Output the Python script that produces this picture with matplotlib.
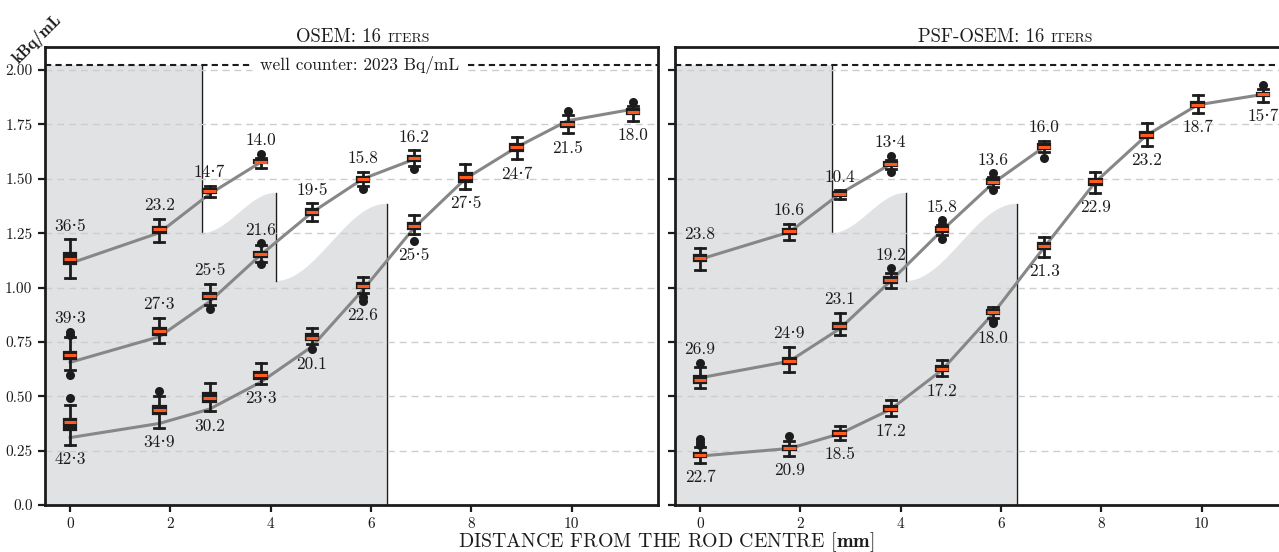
import numpy as np
import matplotlib
matplotlib.use("Agg")
import matplotlib.pyplot as plt

plt.rcParams["font.family"] = ["cmr10", "DejaVu Serif"]
plt.rcParams["mathtext.fontset"] = "cm"
plt.rcParams["axes.unicode_minus"] = False

# distance of each rod from the rod centre [mm]
xpos = [0, 1.78, 2.78, 3.8, 4.82, 5.84, 6.86, 7.88, 8.9, 9.92, 11.22]
yticks = [0.0, 0.25, 0.5, 0.75, 1.0, 1.25, 1.5, 1.75, 2.0]
yticklabels = ["0.0", "0.25", "0.50", "0.75", "1.00", "1.25", "1.50", "1.75", "2.00"]
xticks = [0, 2, 4, 6, 8, 10]
well_counter = 2.023  # kBq/mL

# rod edges: x of each step, value below / above the step
step_x = [2.62, 4.10, 6.31]
step_lo = [1.25, 1.03, 0.0]
step_hi = [2.023, 1.435, 1.385]

# ---- OSEM, three rod groups (top, middle, bottom)
osem_whislo = [[1.045, 1.211, 1.417, 1.548],
               [0.621, 0.746, 0.918, 1.119, 1.306, 1.467, 1.560],
               [0.276, 0.356, 0.431, 0.557, 0.740, 0.976, 1.245, 1.453, 1.589, 1.709, 1.767]]
osem_q1 = [[1.107, 1.252, 1.433, 1.571],
           [0.670, 0.782, 0.946, 1.142, 1.333, 1.487, 1.582],
           [0.344, 0.418, 0.475, 0.580, 0.759, 0.996, 1.269, 1.487, 1.628, 1.738, 1.798]]
osem_med = [[1.132, 1.267, 1.444, 1.578],
            [0.690, 0.800, 0.959, 1.153, 1.347, 1.499, 1.594],
            [0.383, 0.437, 0.491, 0.599, 0.769, 1.008, 1.284, 1.507, 1.645, 1.750, 1.808]]
osem_q3 = [[1.157, 1.280, 1.451, 1.586],
           [0.705, 0.815, 0.973, 1.165, 1.359, 1.509, 1.605],
           [0.395, 0.457, 0.515, 0.611, 0.785, 1.019, 1.298, 1.525, 1.660, 1.760, 1.819]]
osem_whishi = [[1.222, 1.315, 1.467, 1.595],
               [0.774, 0.861, 1.016, 1.195, 1.387, 1.532, 1.632],
               [0.461, 0.503, 0.560, 0.653, 0.815, 1.047, 1.333, 1.568, 1.693, 1.793, 1.834]]
osem_fliers = [[[], [], [], [1.614]],
               [[0.797, 0.782, 0.598], [], [0.900], [1.203, 1.107], [], [1.451], [1.543]],
               [[0.491], [0.526], [], [], [0.716], [0.955, 0.939], [1.214], [], [], [1.811], [1.854]]]
osem_line = [[1.111, 1.252, 1.430, 1.576],
             [0.656, 0.774, 0.935, 1.150, 1.345, 1.500, 1.590],
             [0.310, 0.375, 0.441, 0.565, 0.728, 0.990, 1.275, 1.500, 1.645, 1.767, 1.820]]
osem_labels = [["36·5", "23.2", "14·7", "14.0"],
               ["39·3", "27·3", "25·5", "21.6", "19·5", "15.8", "16.2"],
               ["42·3", "34·9", "30.2", "23·3", "20.1", "22.6", "25·5", "27·5", "24·7", "21.5", "18.0"]]

# ---- PSF-OSEM
psf_whislo = [[1.079, 1.220, 1.407, 1.543],
              [0.538, 0.612, 0.781, 1.000, 1.242, 1.463, 1.623],
              [0.193, 0.227, 0.299, 0.407, 0.592, 0.858, 1.142, 1.434, 1.653, 1.802, 1.853]]
psf_q1 = [[1.124, 1.247, 1.420, 1.560],
          [0.561, 0.650, 0.807, 1.020, 1.255, 1.478, 1.637],
          [0.219, 0.255, 0.319, 0.430, 0.615, 0.876, 1.179, 1.472, 1.687, 1.830, 1.879]]
psf_med = [[1.136, 1.258, 1.429, 1.568],
           [0.576, 0.664, 0.824, 1.034, 1.267, 1.486, 1.647],
           [0.228, 0.264, 0.330, 0.442, 0.625, 0.887, 1.191, 1.488, 1.701, 1.840, 1.888]]
psf_q3 = [[1.148, 1.268, 1.440, 1.576],
          [0.592, 0.678, 0.835, 1.049, 1.278, 1.497, 1.658],
          [0.238, 0.273, 0.342, 0.453, 0.638, 0.896, 1.204, 1.500, 1.715, 1.853, 1.896]]
psf_whishi = [[1.182, 1.293, 1.448, 1.587],
              [0.635, 0.727, 0.884, 1.065, 1.287, 1.506, 1.676],
              [0.265, 0.296, 0.362, 0.481, 0.665, 0.912, 1.234, 1.531, 1.756, 1.883, 1.911]]
psf_fliers = [[[], [], [], [1.606, 1.529]],
              [[0.655], [], [], [1.088], [1.309, 1.294, 1.224], [1.525, 1.448], [1.597]],
              [[0.304, 0.288, 0.278], [0.319], [], [], [], [0.847, 0.835], [], [], [], [], [1.929]]]
psf_line = [[1.130, 1.255, 1.430, 1.568],
            [0.585, 0.661, 0.810, 1.030, 1.262, 1.480, 1.647],
            [0.225, 0.260, 0.327, 0.440, 0.620, 0.880, 1.185, 1.485, 1.700, 1.840, 1.888]]
psf_labels = [["23.8", "16.6", "10.4", "13·4"],
              ["26.9", "24·9", "23.1", "19.2", "15.8", "13.6", "16.0"],
              ["22.7", "20.9", "18.5", "17.2", "17.2", "18.0", "21.3", "22.9", "23.2", "18.7", "15·7"]]

label_above = [True, True, False]

BLACK = "#1c1c1c"
ORANGE = "#ff5a1f"
GREY_FILL = "#e1e2e4"
GRID = "#cdcdcd"
XMIN, XMAX = -0.5, 11.72


def rod_region(ax):
    t = np.linspace(0, 1, 80)
    s = (1 - np.cos(np.pi * t)) / 2
    xs = [-1.0, step_x[0], step_x[0]]
    ys = [step_hi[0], step_hi[0], step_lo[0]]
    xs += list(step_x[0] + (step_x[1] - step_x[0]) * t)
    ys += list(step_lo[0] + (step_hi[1] - step_lo[0]) * s)
    xs += [step_x[1]]
    ys += [step_lo[1]]
    xs += list(step_x[1] + (step_x[2] - step_x[1]) * t)
    ys += list(step_lo[1] + (step_hi[2] - step_lo[1]) * s)
    xs += [step_x[2], -1.0]
    ys += [step_lo[2], 0.0]
    ax.fill(xs, ys, color=GREY_FILL, lw=0, zorder=0)
    for x, lo, hi in zip(step_x, step_lo, step_hi):
        ax.plot([x, x], [lo, hi], color=BLACK, lw=1, zorder=1)


def panel(ax, whislo, q1, med, q3, whishi, fliers, line, labels, show_ylabels, gap=None):
    rod_region(ax)
    # horizontal grid and well counter line; gap leaves room for the text
    segs = [(XMIN, XMAX)] if gap is None else [(XMIN, gap[0]), (gap[1], XMAX)]
    for y in yticks[1:]:
        if y == 2.0:
            for a, b in segs:
                ax.plot([a, b], [y, y], color=GRID, lw=1.0, dashes=(5, 3.5), zorder=1)
        else:
            ax.axhline(y, color=GRID, lw=1.0, dashes=(5, 3.5), zorder=1)
    for a, b in segs:
        ax.plot([a, b], [well_counter] * 2, color=BLACK, lw=1.5, dashes=(3, 2), zorder=1.5)

    for g in range(3):
        n = len(med[g])
        pos = xpos[:n]
        ax.plot(pos, line[g], color="#878787", lw=2.2, zorder=2)
        stats = []
        for i in range(n):
            stats.append(dict(med=med[g][i], q1=q1[g][i], q3=q3[g][i],
                              whislo=whislo[g][i], whishi=whishi[g][i],
                              fliers=fliers[g][i]))
        ax.bxp(stats, positions=pos, widths=0.25, capwidths=0.2, patch_artist=True,
               manage_ticks=False, zorder=3,
               boxprops=dict(facecolor=BLACK, edgecolor=BLACK, lw=1.6),
               medianprops=dict(color=ORANGE, lw=2.2, solid_capstyle="butt"),
               whiskerprops=dict(color=BLACK, lw=2),
               capprops=dict(color=BLACK, lw=2),
               flierprops=dict(marker="o", markerfacecolor=BLACK,
                               markeredgecolor="none", markersize=6.5))
        for i in range(n):
            if label_above[g]:
                top = max([whishi[g][i]] + fliers[g][i])
                ax.annotate(labels[g][i], (pos[i], top), xytext=(0, 4),
                            textcoords="offset points", ha="center", va="bottom",
                            fontsize=12.5, color=BLACK, zorder=4)
            else:
                bot = min([whislo[g][i]] + fliers[g][i])
                ax.annotate(labels[g][i], (pos[i], bot), xytext=(0, -5),
                            textcoords="offset points", ha="center", va="top",
                            fontsize=12.5, color=BLACK, zorder=4)

    ax.set_xlim(XMIN, XMAX)
    ax.set_ylim(0, 2.106)
    ax.set_xticks(xticks)
    ax.set_xticklabels([str(v) for v in xticks], fontsize=11)
    ax.set_yticks(yticks)
    if show_ylabels:
        ax.set_yticklabels(yticklabels, fontsize=11)
    else:
        ax.set_yticklabels([])
    ax.tick_params(direction="out", length=5, width=1.6, color=BLACK,
                   labelcolor=BLACK, pad=4)
    for sp in ax.spines.values():
        sp.set_linewidth(2)
        sp.set_color(BLACK)


fig = plt.figure(figsize=(12.79, 5.52), dpi=100)
ax1 = fig.add_axes([45 / 1279, 47 / 552, 613 / 1279, 458 / 552])
ax2 = fig.add_axes([675 / 1279, 47 / 552, 613 / 1279, 458 / 552])

panel(ax1, osem_whislo, osem_q1, osem_med, osem_q3, osem_whishi, osem_fliers,
      osem_line, osem_labels, True, gap=(3.63, 7.94))
panel(ax2, psf_whislo, psf_q1, psf_med, psf_q3, psf_whishi, psf_fliers,
      psf_line, psf_labels, False)

ax1.text(5.78, well_counter, "well counter: 2023 Bq/mL", ha="center", va="center",
         fontsize=12.5, color=BLACK, zorder=5)

# titles with small-caps "iters"
ty = 1 - 42 / 552
fig.text(381 / 1279, ty, "OSEM: 16", ha="right", va="baseline", fontsize=13.5, color=BLACK)
fig.text(388 / 1279, ty, "ITERS", ha="left", va="baseline", fontsize=10, color=BLACK)
fig.text(1044 / 1279, ty, "PSF-OSEM: 16", ha="right", va="baseline", fontsize=13.5, color=BLACK)
fig.text(1051 / 1279, ty, "ITERS", ha="left", va="baseline", fontsize=10, color=BLACK)

fig.text(666 / 1279, 5 / 552, r"DISTANCE FROM THE ROD CENTRE [$\mathbf{mm}$]",
         ha="center", va="baseline", fontsize=14.3, color=BLACK)
fig.text(37 / 1279, 1 - 39 / 552, "kBq/mL", family="cmb10", fontsize=12,
         rotation=45, ha="center", va="center", rotation_mode="anchor", color=BLACK)

fig.savefig("out.png", dpi=100)
